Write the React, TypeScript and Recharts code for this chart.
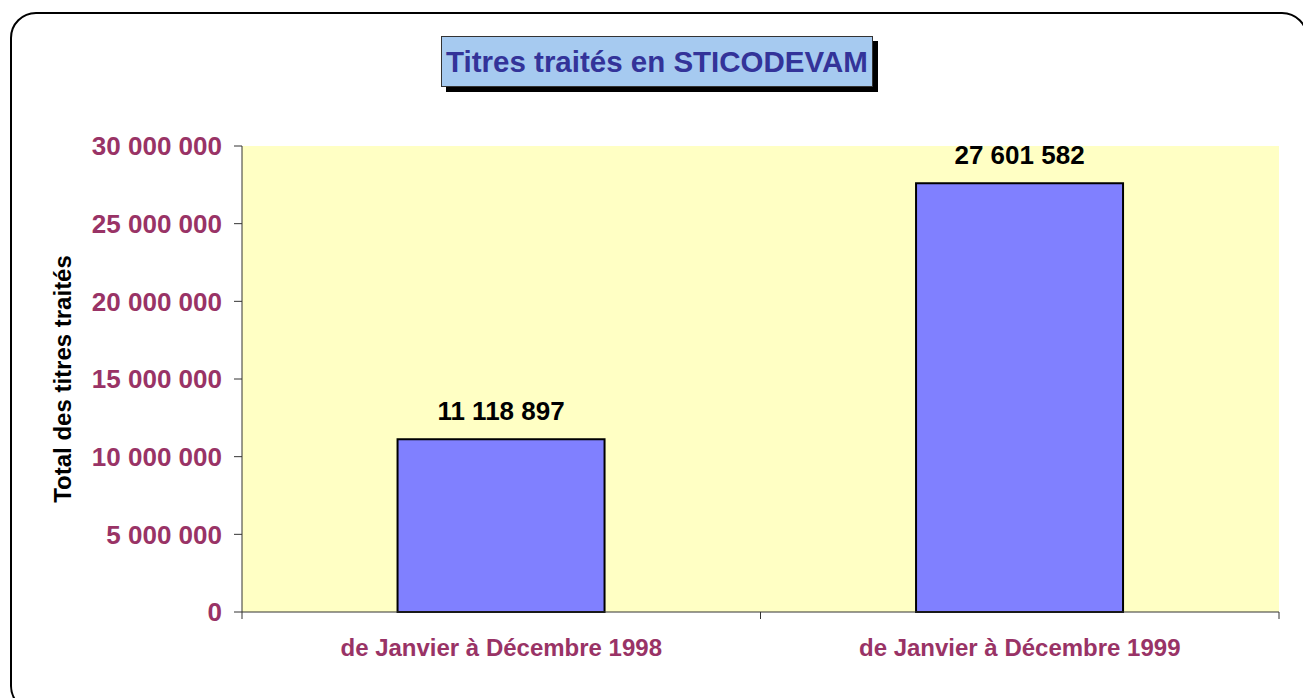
import { BarChart, Bar, XAxis, YAxis, CartesianGrid, LabelList, Label } from "recharts";

// categories and values
const periods = ["de Janvier à Décembre 1998", "de Janvier à Décembre 1999"];
const totals = [11118897, 27601582];
const yTicks = [0, 5000000, 10000000, 15000000, 20000000, 25000000, 30000000];

const data = periods.map((name, i) => ({ name, total: totals[i] }));

const FONT = "'Liberation Sans', Arial, sans-serif";
const MAROON = "#993366";

// "27601582" -> "27 601 582"
const fmt = (v: any) => String(v).replace(/\B(?=(\d{3})+(?!\d))/g, " ");

// Excel-like category tick: label in the middle, tick marks on the band edges
const CategoryTick = (props: any) => {
  const { x, y, payload, index, visibleTicksCount } = props;
  const half = payload?.offset ?? 259;
  const axisY = y - 17;
  return (
    <g>
      <line x1={x - half} x2={x - half} y1={axisY} y2={axisY + 7} stroke="#333" strokeWidth={1} />
      {index === visibleTicksCount - 1 && (
        <line x1={x + half} x2={x + half} y1={axisY} y2={axisY + 7} stroke="#333" strokeWidth={1} />
      )}
      <text
        x={x}
        y={axisY + 44}
        textAnchor="middle"
        fill={MAROON}
        fontSize={24}
        fontWeight="bold"
        fontFamily={FONT}
      >
        {payload.value}
      </text>
    </g>
  );
};

export default function App() {
  return (
    <div style={{ position: "absolute", left: 0, top: 0, width: 1303, height: 698, overflow: "hidden", background: "#fff" }}>
      {/* rounded outer frame, runs off the right and bottom edges */}
      <div
        style={{
          position: "absolute",
          left: 10,
          top: 12,
          width: 1298,
          height: 700,
          border: "2px solid #000",
          borderRadius: 26,
          boxSizing: "border-box",
        }}
      />
      <BarChart
        width={1303}
        height={698}
        data={data}
        margin={{ top: 146, right: 24, left: 0, bottom: 0 }}
        barCategoryGap="30%"
      >
        <CartesianGrid horizontal={false} vertical={false} fill="#FFFFC4" />
        <XAxis
          dataKey="name"
          height={86}
          tickLine={false}
          tickSize={7}
          tickMargin={10}
          axisLine={{ stroke: "#333" }}
          tick={<CategoryTick />}
          interval={0}
        />
        <YAxis
          width={242}
          domain={[0, 30000000]}
          ticks={yTicks}
          interval={0}
          tickFormatter={fmt}
          tickSize={8}
          tickMargin={12}
          axisLine={{ stroke: "#333" }}
          tickLine={{ stroke: "#333" }}
          tick={{ fill: MAROON, fontSize: 26, fontWeight: "bold", fontFamily: FONT }}
        >
          <Label
            content={(p: any) => {
              const vb = p.viewBox || {};
              const cy = vb.y + vb.height / 2;
              const cx = 62;
              return (
                <text
                  x={cx}
                  y={cy}
                  transform={`rotate(-90, ${cx}, ${cy})`}
                  textAnchor="middle"
                  dominantBaseline="central"
                  fill="#000"
                  fontSize={24}
                  fontWeight="bold"
                  fontFamily={FONT}
                >
                  Total des titres traités
                </text>
              );
            }}
          />
        </YAxis>
        <Bar dataKey="total" fill="#8080FF" stroke="#000" strokeWidth={2} isAnimationActive={false}>
          <LabelList
            dataKey="total"
            position="top"
            offset={19}
            formatter={fmt}
            fill="#000"
            fontSize={26}
            fontWeight="bold"
            fontFamily={FONT}
          />
        </Bar>
      </BarChart>
      {/* title box */}
      <div
        style={{
          position: "absolute",
          left: 441,
          top: 36,
          width: 432,
          height: 51,
          boxSizing: "border-box",
          background: "#A6CAF0",
          border: "1px solid #333",
          boxShadow: "5px 5px 0 #000",
          color: "#333399",
          fontFamily: FONT,
          fontWeight: "bold",
          fontSize: 29.5,
          lineHeight: "49px",
          textAlign: "center",
        }}
      >
        Titres traités en STICODEVAM
      </div>
    </div>
  );
}
